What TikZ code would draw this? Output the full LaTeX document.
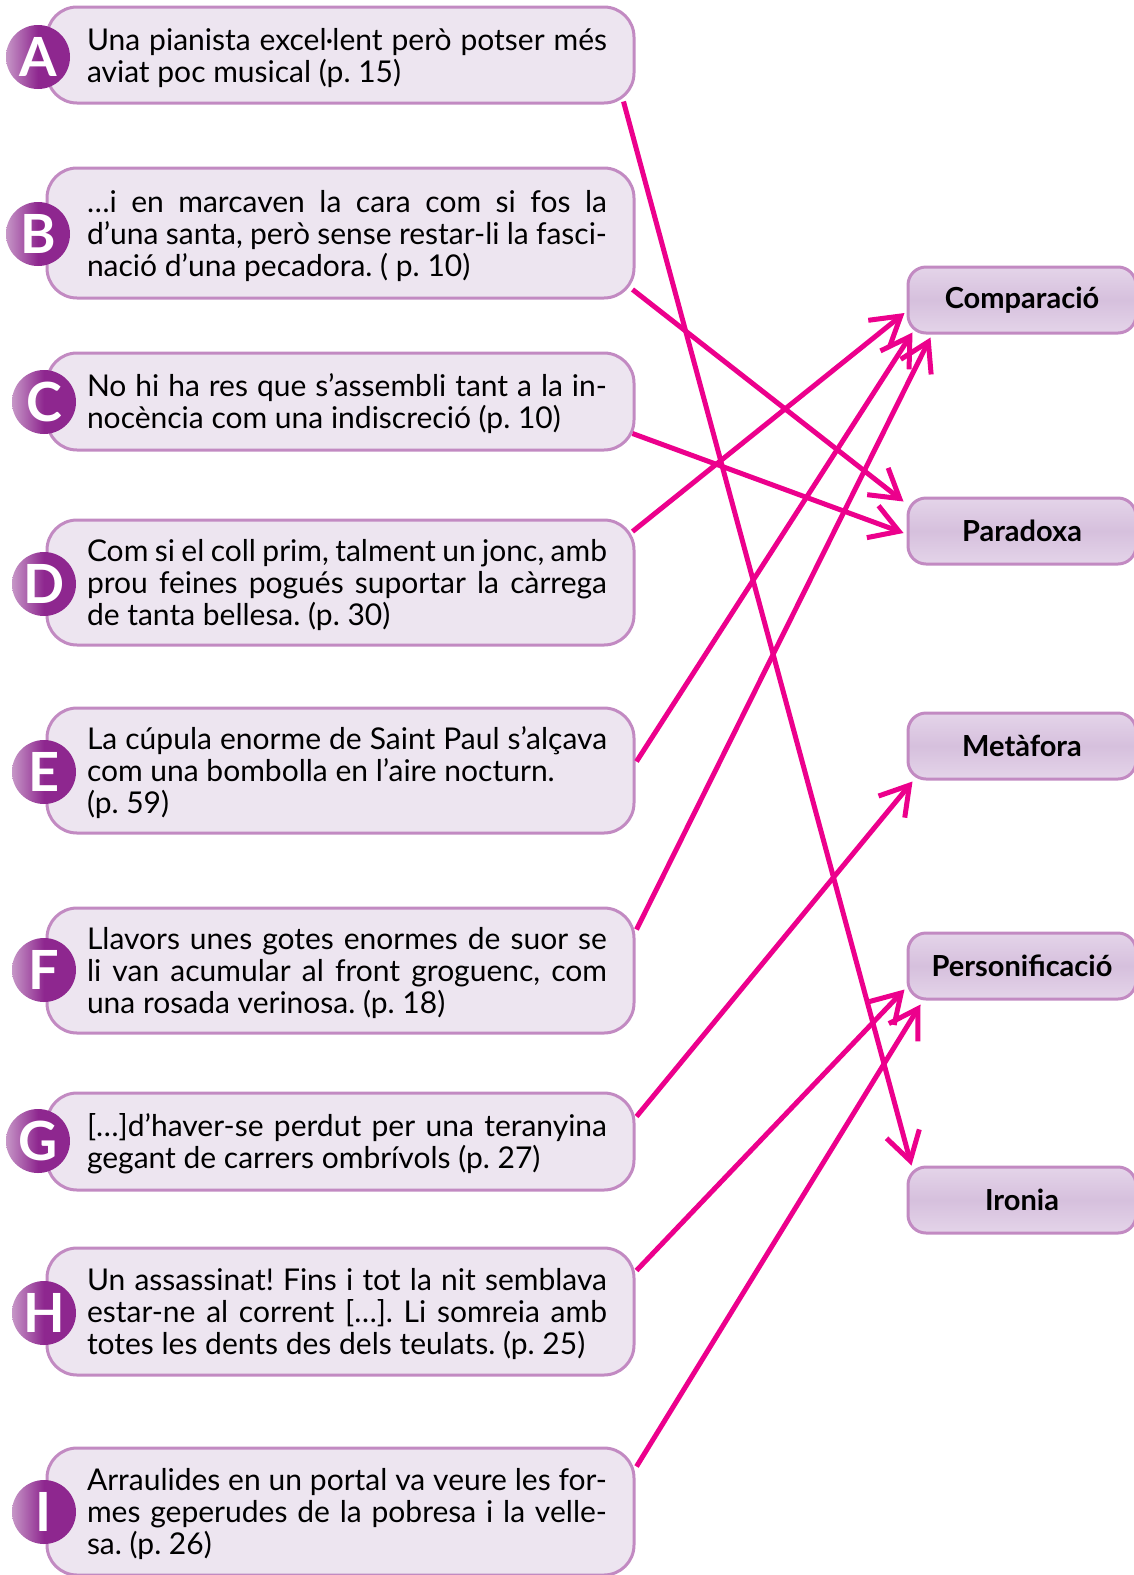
\documentclass[tikz,border=0pt]{standalone}
\usepackage{fontspec}
\setmainfont{Lato}
\usetikzlibrary{arrows.meta}

\definecolor{linkpink}{RGB}{236,0,140}
\definecolor{boxedge}{RGB}{194,138,194}
\definecolor{boxfill}{RGB}{237,229,240}
\definecolor{tagfill}{RGB}{214,192,221}
\definecolor{taglight}{RGB}{228,212,233}
\definecolor{dotdark}{RGB}{142,39,143}
\definecolor{dotlight}{RGB}{198,150,199}

\newcommand{\qstrut}{\rule[-4pt]{0pt}{19pt}}
\newcommand{\qtext}[1]{\noindent\leftskip=6.5pt\lineskiplimit=-20pt\frenchspacing\qstrut#1\qstrut\par}

\tikzset{
  quote/.style={draw=boxedge, fill=boxfill, line width=1.5pt, rounded corners=15pt,
    inner xsep=13.5pt, inner ysep=0pt, text width=266.5pt, align=justify,
    font=\fontsize{15pt}{16pt}\selectfont},
  letter/.style={circle, minimum size=32pt, inner sep=0pt, text=white,
    left color=dotlight, right color=dotdark, middle color=dotdark,
    font=\fontsize{27pt}{27pt}\selectfont\bfseries},
  figura/.style={draw=boxedge, line width=1.5pt, rounded corners=9pt,
    top color=taglight, bottom color=taglight, middle color=tagfill,
    minimum width=114pt, minimum height=33pt, inner sep=0pt,
    font=\fontsize{14.5pt}{16pt}\selectfont\bfseries},
  link/.style={draw=linkpink, line width=2.5pt,
    -{Straight Barb[length=14pt,width=17pt,line width=2.5pt]}}
}

\begin{document}
\begin{tikzpicture}[x=0.5pt, y=-0.5pt]
    \useasboundingbox (0,0) rectangle (1134,1575);

    % quotes
    \node[quote, minimum height=48pt] (qA) at (340.5,55) {\qtext{Una pianista excel·lent però potser més\linebreak aviat poc musical (p.~15)}};
    \node[quote, minimum height=65pt] (qB) at (340.5,233) {\qtext{…i en marcaven la cara com si fos la\linebreak d’una santa, però sense restar-li la fasci-\linebreak nació d’una pecadora. ( p.~10)}};
    \node[quote, minimum height=48.5pt] (qC) at (340.5,401.5) {\qtext{No hi ha res que s’assembli tant a la in-\linebreak nocència com una indiscreció (p.~10)}};
    \node[quote, minimum height=62.5pt] (qD) at (340.5,582.5) {\qtext{Com si el coll prim, talment un jonc, amb\linebreak prou feines pogués suportar la càrrega\linebreak de tanta bellesa. (p.~30)}};
    \node[quote, minimum height=62.5pt] (qE) at (340.5,770.5) {\qtext{La cúpula enorme de Saint Paul s’alçava\linebreak com una bombolla en l’aire nocturn.\\ (p.~59)}};
    \node[quote, minimum height=62.5pt] (qF) at (340.5,970.5) {\qtext{Llavors unes gotes enormes de suor se\linebreak li van acumular al front groguenc, com\linebreak una rosada verinosa. (p.~18)}};
    \node[quote, minimum height=48.5pt] (qG) at (340.5,1141.5) {\qtext{[…]d’haver-se perdut per una teranyina\linebreak gegant de carrers ombrívols (p.~27)}};
    \node[quote, minimum height=63.5pt] (qH) at (340.5,1311.5) {\qtext{Un assassinat! Fins i tot la nit semblava\linebreak estar-ne al corrent […]. Li somreia amb\linebreak totes les dents des dels teulats. (p.~25)}};
    \node[quote, minimum height=63.5pt] (qI) at (340.5,1511.5) {\qtext{Arraulides en un portal va veure les for-\linebreak mes geperudes de la pobresa i la velle-\linebreak sa. (p.~26)}};

    % figures
    \node[figura] (compar) at (1022,300)  {Comparació};
    \node[figura] (parad)  at (1022,531)  {Paradoxa};
    \node[figura] (metaf)  at (1022,746)  {Metàfora};
    \node[figura] (person) at (1022,966)  {Personificació};
    \node[figura] (iron)   at (1022,1200) {Ironia};

    % links
    \draw[link] ([shift={(-12,-3)}]qA.south east) -- ([shift={(5,0)}]iron.north west);
    \draw[link] ([shift={(-3,-10)}]qB.south east) -- ([shift={(-3,5)}]parad.north west);
    \draw[link] ([shift={(-3,-18)}]qC.south east) -- ([shift={(-3,2)}]parad.west);
    \draw[link] ([shift={(-3,13)}]qD.north east) -- ([shift={(-2,13)}]compar.west);
    \draw[link] ([shift={(1,-9)}]qE.east) -- ([shift={(6,-2)}]compar.south west);
    \draw[link] ([shift={(1,23)}]qF.north east) -- ([shift={(24,3)}]compar.south west);
    \draw[link] ([shift={(1,25)}]qG.north east) -- ([shift={(6,1)}]metaf.south west);
    \draw[link] ([shift={(1,24)}]qH.north east) -- ([shift={(-2,-11)}]person.south west);
    \draw[link] ([shift={(1,20)}]qI.north east) -- ([shift={(14,4)}]person.south west);

    % letters
    \node[letter] (lA) at (38,57)   {A};
    \node[letter] (lB) at (38,234)  {B};
    \node[letter] (lC) at (44,402)  {C};
    \node[letter] (lD) at (44,584)  {D};
    \node[letter] (lE) at (44,772)  {E};
    \node[letter] (lF) at (44,970)  {F};
    \node[letter] (lG) at (38,1141) {G};
    \node[letter] (lH) at (44,1313) {H};
    \node[letter] (lI) at (44,1512) {I};
\end{tikzpicture}
\end{document}
